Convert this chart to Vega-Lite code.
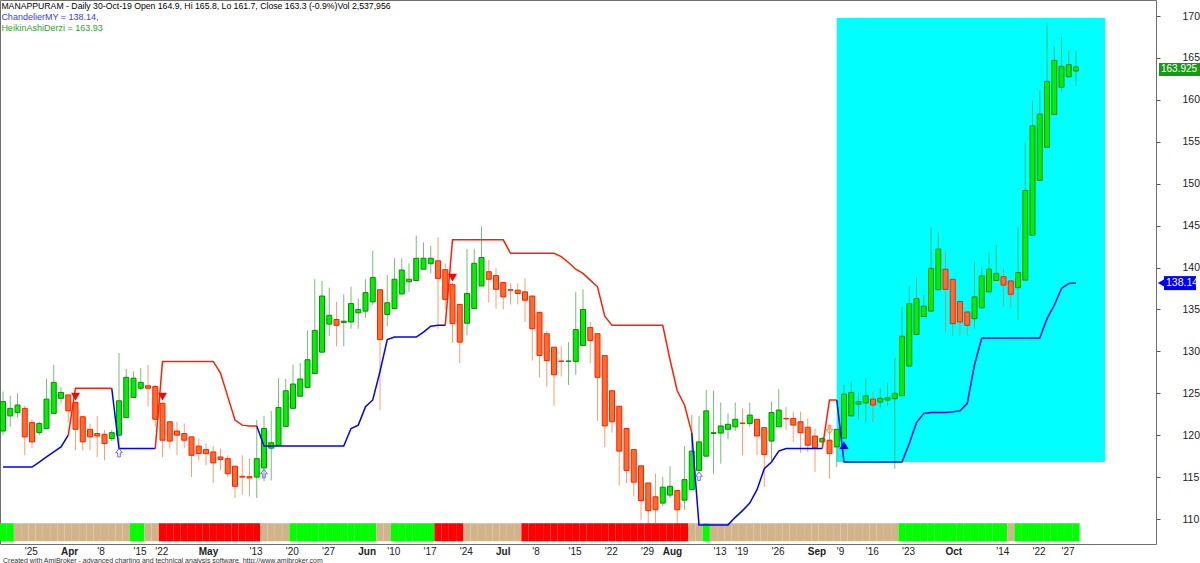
{
"$schema": "https://vega.github.io/schema/vega-lite/v6.json",
"width": 1156, "height": 544,
"autosize": {"type": "none"},
"padding": {"left": 0, "top": 0, "right": 44, "bottom": 19},
"background": "#ffffff",
"config": {"view": {"stroke": "#707070", "strokeWidth": 1}, "font": "Liberation Sans"},
"title": {"text": "Created with AmiBroker - advanced charting and technical analysis software. http://www.amibroker.com", "orient": "bottom", "anchor": "start", "frame": "group", "fontSize": 7, "fontWeight": "normal", "color": "#333333", "offset": 1, "dx": 3},
"datasets": {
"ohlc": [
{"d":"2019-03-19","o":120.5,"h":125.2,"l":120.0,"c":124.0,"r":"G","ls":116.2},
{"d":"2019-03-20","o":122.3,"h":124.7,"l":121.0,"c":123.2,"r":"G","ls":116.2},
{"d":"2019-03-22","o":122.7,"h":125.0,"l":122.1,"c":123.6,"r":"T","ls":116.2},
{"d":"2019-03-25","o":123.2,"h":123.5,"l":117.6,"c":119.8,"r":"T","ls":116.2},
{"d":"2019-03-26","o":121.5,"h":121.9,"l":118.5,"c":119.2,"r":"T","ls":116.2},
{"d":"2019-03-27","o":120.3,"h":121.6,"l":120.0,"c":121.4,"r":"T","ls":116.8},
{"d":"2019-03-28","o":120.8,"h":126.7,"l":120.8,"c":124.3,"r":"T","ls":117.4},
{"d":"2019-03-29","o":122.6,"h":128.4,"l":122.6,"c":126.3,"r":"T","ls":118.0},
{"d":"2019-04-01","o":124.4,"h":125.7,"l":123.8,"c":125.1,"r":"T","ls":118.6},
{"d":"2019-04-02","o":124.8,"h":124.8,"l":121.5,"c":122.9,"r":"T","ls":120.0,"ss":120.0},
{"d":"2019-04-03","o":123.9,"h":123.9,"l":118.2,"c":120.7,"r":"T","ss":125.6},
{"d":"2019-04-04","o":122.2,"h":122.2,"l":118.2,"c":119.2,"r":"T","ss":125.6},
{"d":"2019-04-05","o":120.7,"h":121.4,"l":118.2,"c":119.8,"r":"T","ss":125.6},
{"d":"2019-04-08","o":120.2,"h":122.3,"l":117.4,"c":119.9,"r":"T","ss":125.6},
{"d":"2019-04-09","o":120.1,"h":120.6,"l":117.0,"c":119.0,"r":"T","ss":125.6},
{"d":"2019-04-10","o":119.6,"h":120.6,"l":119.3,"c":120.3,"r":"T","ss":125.6,"ls":125.6},
{"d":"2019-04-11","o":120.0,"h":129.8,"l":118.6,"c":124.1,"r":"T","ls":118.4},
{"d":"2019-04-12","o":122.1,"h":127.9,"l":122.1,"c":126.9,"r":"T","ls":118.4},
{"d":"2019-04-15","o":124.5,"h":127.6,"l":124.4,"c":126.8,"r":"G","ls":118.4},
{"d":"2019-04-16","o":125.6,"h":128.0,"l":125.4,"c":126.3,"r":"G","ls":118.4},
{"d":"2019-04-18","o":125.9,"h":128.4,"l":123.4,"c":125.6,"r":"T","ls":118.4},
{"d":"2019-04-22","o":125.8,"h":126.0,"l":121.0,"c":121.9,"r":"T","ls":118.4,"ss":118.4},
{"d":"2019-04-23","o":123.8,"h":124.0,"l":117.4,"c":119.4,"r":"R","ss":128.8},
{"d":"2019-04-24","o":121.6,"h":121.6,"l":118.4,"c":119.3,"r":"R","ss":128.8},
{"d":"2019-04-25","o":120.5,"h":121.6,"l":117.6,"c":120.0,"r":"R","ss":128.8},
{"d":"2019-04-26","o":120.2,"h":121.4,"l":118.5,"c":119.4,"r":"R","ss":128.8},
{"d":"2019-04-30","o":119.8,"h":119.8,"l":115.0,"c":117.6,"r":"R","ss":128.8},
{"d":"2019-05-02","o":118.7,"h":119.6,"l":117.0,"c":117.8,"r":"R","ss":128.8},
{"d":"2019-05-03","o":118.3,"h":119.0,"l":116.4,"c":117.8,"r":"R","ss":128.8},
{"d":"2019-05-06","o":118.0,"h":118.7,"l":114.3,"c":116.7,"r":"R","ss":128.8},
{"d":"2019-05-07","o":117.4,"h":118.4,"l":115.8,"c":117.1,"r":"R","ss":127.4},
{"d":"2019-05-08","o":117.2,"h":117.6,"l":115.0,"c":115.4,"r":"R","ss":124.6},
{"d":"2019-05-09","o":116.3,"h":116.3,"l":112.5,"c":113.9,"r":"R","ss":121.8},
{"d":"2019-05-10","o":115.1,"h":117.6,"l":112.9,"c":115.0,"r":"R","ss":121.2},
{"d":"2019-05-13","o":115.05,"h":117.2,"l":112.7,"c":114.9,"r":"R","ss":121.1},
{"d":"2019-05-14","o":115.0,"h":121.8,"l":112.5,"c":117.2,"r":"R","ss":121.1,"ls":121.1},
{"d":"2019-05-15","o":116.1,"h":122.3,"l":114.5,"c":120.8,"r":"T","ls":118.7},
{"d":"2019-05-16","o":118.45,"h":122.9,"l":114.6,"c":119.1,"r":"T","ls":118.7},
{"d":"2019-05-17","o":118.8,"h":126.8,"l":118.7,"c":123.3,"r":"T","ls":118.7},
{"d":"2019-05-20","o":121.05,"h":126.7,"l":121.0,"c":125.3,"r":"T","ls":118.7},
{"d":"2019-05-21","o":123.2,"h":128.4,"l":123.2,"c":126.1,"r":"G","ls":118.7},
{"d":"2019-05-22","o":124.65,"h":128.6,"l":124.6,"c":126.7,"r":"G","ls":118.7},
{"d":"2019-05-23","o":125.7,"h":132.5,"l":125.7,"c":129.0,"r":"G","ls":118.7},
{"d":"2019-05-24","o":127.35,"h":138.6,"l":127.3,"c":132.5,"r":"G","ls":118.7},
{"d":"2019-05-27","o":129.9,"h":138.4,"l":129.9,"c":136.6,"r":"G","ls":118.7},
{"d":"2019-05-28","o":133.25,"h":137.6,"l":131.8,"c":134.3,"r":"G","ls":118.7},
{"d":"2019-05-29","o":133.8,"h":135.9,"l":130.6,"c":133.1,"r":"G","ls":118.7},
{"d":"2019-05-30","o":133.45,"h":136.8,"l":130.6,"c":133.6,"r":"G","ls":118.7},
{"d":"2019-05-31","o":133.5,"h":137.7,"l":132.7,"c":135.7,"r":"G","ls":120.8},
{"d":"2019-06-03","o":134.6,"h":136.3,"l":132.7,"c":135.0,"r":"G","ls":121.2},
{"d":"2019-06-04","o":134.8,"h":138.6,"l":134.0,"c":137.0,"r":"G","ls":123.4},
{"d":"2019-06-06","o":135.9,"h":142.0,"l":135.5,"c":138.8,"r":"G","ls":124.2},
{"d":"2019-06-07","o":137.35,"h":137.35,"l":123.0,"c":131.4,"r":"T","ls":127.6},
{"d":"2019-06-10","o":134.4,"h":139.1,"l":133.0,"c":135.8,"r":"T","ls":131.4},
{"d":"2019-06-11","o":135.1,"h":141.1,"l":135.1,"c":138.6,"r":"G","ls":131.7},
{"d":"2019-06-12","o":136.85,"h":141.1,"l":136.8,"c":139.7,"r":"G","ls":131.7},
{"d":"2019-06-13","o":138.3,"h":140.5,"l":137.1,"c":138.6,"r":"G","ls":131.7},
{"d":"2019-06-14","o":138.45,"h":143.8,"l":138.4,"c":141.1,"r":"G","ls":131.7},
{"d":"2019-06-17","o":139.8,"h":143.0,"l":139.8,"c":141.1,"r":"G","ls":132.3},
{"d":"2019-06-18","o":140.45,"h":142.6,"l":139.3,"c":141.1,"r":"G","ls":133.0},
{"d":"2019-06-19","o":140.8,"h":143.6,"l":132.7,"c":138.7,"r":"R","ls":133.1},
{"d":"2019-06-20","o":139.75,"h":140.5,"l":135.0,"c":136.2,"r":"R","ls":133.1,"ss":133.1},
{"d":"2019-06-21","o":137.95,"h":138.2,"l":131.0,"c":133.3,"r":"R","ss":143.3},
{"d":"2019-06-24","o":135.6,"h":135.6,"l":128.6,"c":131.1,"r":"R","ss":143.3},
{"d":"2019-06-25","o":133.35,"h":142.2,"l":131.9,"c":136.9,"r":"T","ss":143.3},
{"d":"2019-06-26","o":135.1,"h":142.2,"l":135.1,"c":140.5,"r":"T","ss":143.3},
{"d":"2019-06-27","o":137.8,"h":144.9,"l":137.8,"c":141.2,"r":"T","ss":143.3},
{"d":"2019-06-28","o":139.5,"h":140.9,"l":135.8,"c":138.6,"r":"T","ss":143.3},
{"d":"2019-07-01","o":139.05,"h":139.9,"l":135.1,"c":137.4,"r":"T","ss":143.3},
{"d":"2019-07-02","o":138.2,"h":138.3,"l":135.0,"c":136.5,"r":"T","ss":143.3},
{"d":"2019-07-03","o":137.35,"h":138.1,"l":135.6,"c":137.3,"r":"T","ss":141.7},
{"d":"2019-07-04","o":137.3,"h":138.1,"l":135.6,"c":136.9,"r":"T","ss":141.7},
{"d":"2019-07-05","o":137.1,"h":138.7,"l":133.5,"c":136.1,"r":"R","ss":141.7},
{"d":"2019-07-08","o":136.6,"h":136.6,"l":128.9,"c":132.7,"r":"R","ss":141.7},
{"d":"2019-07-09","o":134.65,"h":134.65,"l":126.9,"c":129.5,"r":"R","ss":141.7},
{"d":"2019-07-10","o":132.1,"h":132.4,"l":125.8,"c":128.9,"r":"R","ss":141.7},
{"d":"2019-07-11","o":130.5,"h":130.5,"l":123.5,"c":127.2,"r":"R","ss":141.7},
{"d":"2019-07-12","o":128.85,"h":130.6,"l":127.0,"c":128.8,"r":"R","ss":141.3},
{"d":"2019-07-15","o":128.8,"h":131.1,"l":126.0,"c":128.85,"r":"R","ss":140.6},
{"d":"2019-07-16","o":128.8,"h":137.1,"l":127.2,"c":132.6,"r":"R","ss":139.8},
{"d":"2019-07-17","o":130.7,"h":137.4,"l":130.7,"c":135.0,"r":"R","ss":139.3},
{"d":"2019-07-18","o":132.85,"h":133.5,"l":128.6,"c":131.3,"r":"R","ss":138.5},
{"d":"2019-07-19","o":132.1,"h":132.1,"l":121.7,"c":126.9,"r":"R","ss":137.7},
{"d":"2019-07-22","o":129.5,"h":129.5,"l":118.6,"c":121.1,"r":"R","ss":134.2},
{"d":"2019-07-23","o":125.3,"h":125.3,"l":120.3,"c":121.6,"r":"R","ss":133.1},
{"d":"2019-07-24","o":123.45,"h":123.45,"l":114.0,"c":118.1,"r":"R","ss":133.1},
{"d":"2019-07-25","o":120.8,"h":120.8,"l":114.3,"c":115.8,"r":"R","ss":133.1},
{"d":"2019-07-26","o":118.3,"h":118.3,"l":112.7,"c":114.4,"r":"R","ss":133.1},
{"d":"2019-07-29","o":116.35,"h":116.35,"l":109.9,"c":112.2,"r":"R","ss":133.1},
{"d":"2019-07-30","o":114.3,"h":114.3,"l":109.5,"c":111.0,"r":"R","ss":133.1},
{"d":"2019-07-31","o":112.65,"h":115.4,"l":109.5,"c":111.1,"r":"R","ss":133.1},
{"d":"2019-08-01","o":111.9,"h":115.0,"l":111.5,"c":113.8,"r":"R","ss":133.1},
{"d":"2019-08-02","o":112.85,"h":116.3,"l":112.5,"c":113.9,"r":"R","ss":129.0},
{"d":"2019-08-05","o":113.4,"h":113.4,"l":109.5,"c":111.1,"r":"R","ss":125.3},
{"d":"2019-08-06","o":112.25,"h":118.7,"l":111.1,"c":114.7,"r":"R","ss":123.6},
{"d":"2019-08-07","o":113.5,"h":122.4,"l":113.5,"c":118.1,"r":"T","ss":120.3,"ls":120.3},
{"d":"2019-08-08","o":115.8,"h":122.3,"l":115.8,"c":119.2,"r":"T","ls":109.3},
{"d":"2019-08-09","o":117.5,"h":125.4,"l":117.4,"c":122.9,"r":"G","ls":109.3},
{"d":"2019-08-13","o":120.2,"h":125.3,"l":115.4,"c":120.3,"r":"T","ls":109.3},
{"d":"2019-08-14","o":120.25,"h":123.9,"l":116.6,"c":121.1,"r":"T","ls":109.3},
{"d":"2019-08-16","o":120.7,"h":122.6,"l":119.5,"c":121.3,"r":"T","ls":109.3},
{"d":"2019-08-19","o":121.0,"h":123.9,"l":120.5,"c":121.9,"r":"T","ls":110.2},
{"d":"2019-08-20","o":121.45,"h":123.2,"l":117.6,"c":121.4,"r":"T","ls":111.0},
{"d":"2019-08-21","o":121.4,"h":123.9,"l":121.0,"c":122.4,"r":"T","ls":111.9},
{"d":"2019-08-22","o":121.9,"h":121.9,"l":117.6,"c":119.9,"r":"T","ls":113.5},
{"d":"2019-08-23","o":120.9,"h":120.9,"l":113.8,"c":117.7,"r":"T","ls":116.0},
{"d":"2019-08-26","o":119.3,"h":124.0,"l":117.0,"c":122.7,"r":"T","ls":116.8},
{"d":"2019-08-27","o":121.0,"h":125.5,"l":121.0,"c":123.0,"r":"T","ls":118.1},
{"d":"2019-08-28","o":122.0,"h":123.4,"l":120.6,"c":121.95,"r":"T","ls":118.4},
{"d":"2019-08-29","o":122.0,"h":122.8,"l":119.2,"c":121.2,"r":"T","ls":118.4},
{"d":"2019-08-30","o":121.6,"h":122.8,"l":117.9,"c":120.3,"r":"T","ls":118.4},
{"d":"2019-09-03","o":120.95,"h":122.0,"l":118.0,"c":118.8,"r":"T","ls":118.4},
{"d":"2019-09-04","o":119.9,"h":120.8,"l":115.6,"c":118.5,"r":"T","ls":118.4},
{"d":"2019-09-05","o":119.2,"h":119.8,"l":118.5,"c":119.6,"r":"T","ls":118.4,"ss":118.4},
{"d":"2019-09-06","o":119.4,"h":121.2,"l":114.8,"c":117.8,"r":"T","ss":124.2},
{"d":"2019-09-09","o":118.6,"h":120.7,"l":116.2,"c":120.7,"r":"T","ss":124.2,"ls":124.2},
{"d":"2019-09-11","o":119.65,"h":126.0,"l":119.6,"c":124.9,"r":"T","ls":116.8},
{"d":"2019-09-12","o":122.3,"h":126.4,"l":122.3,"c":125.1,"r":"T","ls":116.8},
{"d":"2019-09-13","o":123.7,"h":125.1,"l":121.8,"c":124.0,"r":"T","ls":116.8},
{"d":"2019-09-16","o":123.85,"h":126.8,"l":121.6,"c":124.7,"r":"T","ls":116.8},
{"d":"2019-09-17","o":124.3,"h":125.2,"l":121.5,"c":123.6,"r":"T","ls":116.8},
{"d":"2019-09-18","o":123.95,"h":125.6,"l":123.2,"c":124.4,"r":"T","ls":116.8},
{"d":"2019-09-19","o":124.2,"h":126.3,"l":123.5,"c":124.5,"r":"T","ls":116.8},
{"d":"2019-09-20","o":124.35,"h":129.2,"l":116.0,"c":125.0,"r":"T","ls":116.8},
{"d":"2019-09-23","o":124.7,"h":135.3,"l":124.7,"c":131.8,"r":"G","ls":116.8},
{"d":"2019-09-24","o":128.25,"h":137.8,"l":128.2,"c":135.7,"r":"G","ls":119.0},
{"d":"2019-09-25","o":132.0,"h":138.8,"l":132.0,"c":136.3,"r":"G","ls":121.5},
{"d":"2019-09-26","o":134.15,"h":136.7,"l":134.1,"c":135.4,"r":"G","ls":122.6},
{"d":"2019-09-27","o":134.8,"h":144.8,"l":134.8,"c":139.9,"r":"G","ls":122.7},
{"d":"2019-09-30","o":137.35,"h":144.2,"l":137.3,"c":142.2,"r":"G","ls":122.7},
{"d":"2019-10-01","o":139.8,"h":141.9,"l":132.3,"c":137.4,"r":"G","ls":122.7},
{"d":"2019-10-03","o":138.6,"h":138.6,"l":131.8,"c":133.3,"r":"G","ls":122.8},
{"d":"2019-10-04","o":135.95,"h":135.95,"l":131.9,"c":133.5,"r":"G","ls":122.9},
{"d":"2019-10-07","o":134.7,"h":134.7,"l":131.9,"c":133.1,"r":"G","ls":123.8},
{"d":"2019-10-09","o":133.9,"h":140.7,"l":132.7,"c":136.5,"r":"G","ls":128.4},
{"d":"2019-10-10","o":135.2,"h":140.0,"l":135.1,"c":139.0,"r":"G","ls":131.6},
{"d":"2019-10-11","o":137.1,"h":141.8,"l":137.1,"c":139.8,"r":"G","ls":131.6},
{"d":"2019-10-14","o":138.45,"h":142.7,"l":138.4,"c":139.3,"r":"G","ls":131.6},
{"d":"2019-10-15","o":138.9,"h":139.9,"l":135.4,"c":137.9,"r":"G","ls":131.6},
{"d":"2019-10-16","o":138.4,"h":138.4,"l":135.2,"c":136.8,"r":"T","ls":131.6},
{"d":"2019-10-17","o":137.6,"h":144.8,"l":133.7,"c":139.4,"r":"G","ls":131.6},
{"d":"2019-10-18","o":138.5,"h":155.0,"l":138.5,"c":149.2,"r":"G","ls":131.6},
{"d":"2019-10-22","o":143.85,"h":159.9,"l":143.8,"c":156.9,"r":"G","ls":131.6},
{"d":"2019-10-23","o":150.4,"h":161.2,"l":150.3,"c":158.3,"r":"G","ls":131.6},
{"d":"2019-10-24","o":154.35,"h":169.2,"l":154.3,"c":162.2,"r":"G","ls":133.9},
{"d":"2019-10-25","o":158.25,"h":166.4,"l":158.2,"c":164.7,"r":"G","ls":135.5},
{"d":"2019-10-27","o":161.5,"h":167.5,"l":160.9,"c":164.0,"r":"G","ls":137.5},
{"d":"2019-10-29","o":162.75,"h":165.9,"l":162.7,"c":164.2,"r":"G","ls":138.1},
{"d":"2019-10-30","o":163.45,"h":165.8,"l":161.7,"c":163.925,"r":"G","ls":138.14}
],
"sig": [
{"d":"2019-04-03","p":124.6,"t":"sellT"},
{"d":"2019-04-23","p":124.6,"t":"sellT"},
{"d":"2019-06-21","p":138.8,"t":"sellT"},
{"d":"2019-09-11","p":118.8,"t":"buyT"},
{"d":"2019-04-11","p":117.9,"t":"buyA"},
{"d":"2019-05-15","p":115.4,"t":"buyA"},
{"d":"2019-08-08","p":115.1,"t":"buyA"},
{"d":"2019-09-06","p":120.7,"t":"sellA"}
]
},
"data": {"name": "ohlc"},
"encoding": {
"x": {"field": "d", "type": "ordinal",
 "scale": {"type": "band", "paddingInner": 0, "paddingOuter": 0, "range": [-0.625, 1152.125],
  "domain": ["2019-03-19","2019-03-20","2019-03-22","2019-03-25","2019-03-26","2019-03-27","2019-03-28","2019-03-29","2019-04-01","2019-04-02","2019-04-03","2019-04-04","2019-04-05","2019-04-08","2019-04-09","2019-04-10","2019-04-11","2019-04-12","2019-04-15","2019-04-16","2019-04-18","2019-04-22","2019-04-23","2019-04-24","2019-04-25","2019-04-26","2019-04-30","2019-05-02","2019-05-03","2019-05-06","2019-05-07","2019-05-08","2019-05-09","2019-05-10","2019-05-13","2019-05-14","2019-05-15","2019-05-16","2019-05-17","2019-05-20","2019-05-21","2019-05-22","2019-05-23","2019-05-24","2019-05-27","2019-05-28","2019-05-29","2019-05-30","2019-05-31","2019-06-03","2019-06-04","2019-06-06","2019-06-07","2019-06-10","2019-06-11","2019-06-12","2019-06-13","2019-06-14","2019-06-17","2019-06-18","2019-06-19","2019-06-20","2019-06-21","2019-06-24","2019-06-25","2019-06-26","2019-06-27","2019-06-28","2019-07-01","2019-07-02","2019-07-03","2019-07-04","2019-07-05","2019-07-08","2019-07-09","2019-07-10","2019-07-11","2019-07-12","2019-07-15","2019-07-16","2019-07-17","2019-07-18","2019-07-19","2019-07-22","2019-07-23","2019-07-24","2019-07-25","2019-07-26","2019-07-29","2019-07-30","2019-07-31","2019-08-01","2019-08-02","2019-08-05","2019-08-06","2019-08-07","2019-08-08","2019-08-09","2019-08-13","2019-08-14","2019-08-16","2019-08-19","2019-08-20","2019-08-21","2019-08-22","2019-08-23","2019-08-26","2019-08-27","2019-08-28","2019-08-29","2019-08-30","2019-09-03","2019-09-04","2019-09-05","2019-09-06","2019-09-09","2019-09-11","2019-09-12","2019-09-13","2019-09-16","2019-09-17","2019-09-18","2019-09-19","2019-09-20","2019-09-23","2019-09-24","2019-09-25","2019-09-26","2019-09-27","2019-09-30","2019-10-01","2019-10-03","2019-10-04","2019-10-07","2019-10-09","2019-10-10","2019-10-11","2019-10-14","2019-10-15","2019-10-16","2019-10-17","2019-10-18","2019-10-22","2019-10-23","2019-10-24","2019-10-25","2019-10-27","2019-10-29","2019-10-30","2019-10-31","2019-11-01","2019-11-04","2019-11-05","2019-11-06","2019-11-07","2019-11-08","2019-11-11","2019-11-13","2019-11-14"]},
 "axis": {"title": null, "grid": false, "domain": false, "ticks": false, "labelAngle": 0, "labelAlign": "left", "labelPadding": 2, "labelOverlap": false, "labelBound": false, "labelFlush": false, "labelFont": "Liberation Sans", "labelFontSize": 10, "labelColor": "#222222",
  "values": ["2019-03-25","2019-04-01","2019-04-08","2019-04-15","2019-04-22","2019-05-02","2019-05-13","2019-05-20","2019-05-27","2019-06-03","2019-06-10","2019-06-17","2019-06-24","2019-07-01","2019-07-08","2019-07-15","2019-07-22","2019-07-29","2019-08-01","2019-08-13","2019-08-19","2019-08-26","2019-09-03","2019-09-09","2019-09-16","2019-09-23","2019-10-01","2019-10-14","2019-10-22","2019-10-27"],
  "labelExpr": "indexof(['2019-04-01','2019-05-02','2019-06-03','2019-07-01','2019-08-01','2019-09-03','2019-10-01'], datum.value) >= 0 ? ['Jan','Feb','Mar','Apr','May','Jun','Jul','Aug','Sep','Oct','Nov','Dec'][toNumber(substring(datum.value,5,7))-1] : \"'\" + toNumber(substring(datum.value,8,10))",
  "labelFontWeight": {"condition": {"test": "indexof(['2019-04-01','2019-05-02','2019-06-03','2019-07-01','2019-08-01','2019-09-03','2019-10-01'], datum.value) >= 0", "value": "bold"}, "value": "normal"}}
}
},
"layer": [
{"data": {"values": [{}]},
 "mark": {"type": "rect", "color": "#00ffff"},
 "encoding": {
  "x": {"datum": "2019-09-09", "type": "ordinal", "bandPosition": 0.5},
  "x2": {"datum": "2019-11-05"},
  "y": {"datum": 169.76, "type": "quantitative"},
  "y2": {"datum": 116.8}}},
{"mark": {"type": "bar", "width": {"band": 1}},
 "encoding": {
  "y": {"datum": 107.35, "type": "quantitative"},
  "y2": {"datum": 109.5},
  "color": {"field": "r", "type": "nominal", "scale": {"domain": ["G","T","R"], "range": ["#00ff00","#d2b48c","#ff0000"]}, "legend": null}}},
{"mark": {"type": "rule", "opacity": 0.65, "strokeWidth": 1},
 "encoding": {
  "y": {"field": "l", "type": "quantitative",
   "scale": {"domain": [107.02, 171.91], "nice": false, "zero": false},
   "axis": {"orient": "right", "title": null, "grid": false, "domain": false, "ticks": true, "tickSize": 4, "tickColor": "#555555", "labelPadding": 22, "labelFont": "Liberation Sans", "labelFontSize": 10.5, "labelColor": "#222222", "format": "d", "values": [110,115,120,125,130,135,140,145,150,155,160,165,170]}},
  "y2": {"field": "h"},
  "stroke": {"condition": {"test": "datum.c >= datum.o", "value": "#2e9e2e"}, "value": "#ff6a20"}}},
{"mark": {"type": "bar", "width": 5, "strokeWidth": 1},
 "encoding": {
  "y": {"field": "o", "type": "quantitative"},
  "y2": {"field": "c"},
  "fill": {"condition": {"test": "datum.c >= datum.o", "value": "#00f000"}, "value": "#ff6c2c"},
  "stroke": {"condition": {"test": "datum.c >= datum.o", "value": "#0a8a0a"}, "value": "#ff2000"}}},
{"mark": {"type": "line", "color": "#0000ff", "strokeWidth": 1.5},
 "encoding": {"y": {"field": "ls", "type": "quantitative"}}},
{"mark": {"type": "line", "color": "#ff2000", "strokeWidth": 1.5},
 "encoding": {"y": {"field": "ss", "type": "quantitative"}}},
{"data": {"name": "sig"}, "transform": [{"filter": "datum.t == 'sellT'"}],
 "mark": {"type": "point", "shape": "triangle-down", "filled": true, "color": "#ff0000", "size": 80, "opacity": 1},
 "encoding": {"y": {"field": "p", "type": "quantitative"}}},
{"data": {"name": "sig"}, "transform": [{"filter": "datum.t == 'buyT'"}],
 "mark": {"type": "point", "shape": "triangle-up", "filled": true, "color": "#0000ff", "size": 80, "opacity": 1},
 "encoding": {"y": {"field": "p", "type": "quantitative"}}},
{"data": {"name": "sig"}, "transform": [{"filter": "datum.t == 'buyA'"}],
 "mark": {"type": "point", "shape": "M0,-1L0.8,0L0.3,0L0.3,1L-0.3,1L-0.3,0L-0.8,0Z", "filled": false, "stroke": "#6a6aff", "strokeWidth": 1, "size": 70, "opacity": 1},
 "encoding": {"y": {"field": "p", "type": "quantitative"}}},
{"data": {"name": "sig"}, "transform": [{"filter": "datum.t == 'sellA'"}],
 "mark": {"type": "point", "shape": "M0,1L0.8,0L0.3,0L0.3,-1L-0.3,-1L-0.3,0L-0.8,0Z", "filled": false, "stroke": "#ff8040", "strokeWidth": 1, "size": 70, "opacity": 1},
 "encoding": {"y": {"field": "p", "type": "quantitative"}}},
{"data": {"values": [{}]},
 "mark": {"type": "rect", "color": "#169a16", "xOffset": 3, "x2Offset": 44, "yOffset": -4, "y2Offset": 9},
 "encoding": {"x": {"value": "width"}, "x2": {"value": "width"}, "y": {"datum": 163.925, "type": "quantitative"}, "y2": {"datum": 163.925}}},
{"data": {"values": [{}]},
 "mark": {"type": "text", "text": "163.925", "color": "#ffffff", "fontSize": 10, "align": "left", "baseline": "middle", "dx": 5, "dy": 2.5},
 "encoding": {"x": {"value": "width"}, "y": {"datum": 163.925, "type": "quantitative"}}},
{"data": {"values": [{}]},
 "mark": {"type": "rect", "color": "#0000ff", "xOffset": 8, "x2Offset": 40, "yOffset": -7, "y2Offset": 7},
 "encoding": {"x": {"value": "width"}, "x2": {"value": "width"}, "y": {"datum": 138.14, "type": "quantitative"}, "y2": {"datum": 138.14}}},
{"data": {"values": [{}]},
 "mark": {"type": "point", "shape": "triangle-left", "filled": true, "color": "#0000ff", "size": 90, "opacity": 1, "xOffset": 6},
 "encoding": {"x": {"value": "width"}, "y": {"datum": 138.14, "type": "quantitative"}}},
{"data": {"values": [{}]},
 "mark": {"type": "text", "text": "138.14", "color": "#ffffff", "fontSize": 10.5, "align": "left", "baseline": "middle", "dx": 10},
 "encoding": {"x": {"value": "width"}, "y": {"datum": 138.14, "type": "quantitative"}}},
{"data": {"values": [{}]},
 "mark": {"type": "text", "text": "MANAPPURAM - Daily 30-Oct-19 Open 164.9, Hi 165.8, Lo 161.7, Close 163.3 (-0.9%)Vol 2,537,956", "color": "#000000", "fontSize": 8.7, "align": "left", "baseline": "middle", "dx": 2},
 "encoding": {"x": {"datum": "2019-03-19", "type": "ordinal", "bandPosition": 0}, "y": {"datum": 171.23, "type": "quantitative"}}},
{"data": {"values": [{}]},
 "mark": {"type": "text", "text": "ChandelierMY = 138.14,", "color": "#3a3aff", "fontSize": 9, "align": "left", "baseline": "middle", "dx": 2},
 "encoding": {"x": {"datum": "2019-03-19", "type": "ordinal", "bandPosition": 0}, "y": {"datum": 169.84, "type": "quantitative"}}},
{"data": {"values": [{}]},
 "mark": {"type": "text", "text": "HeikinAshiDerzi = 163.93", "color": "#2f9f2f", "fontSize": 9, "align": "left", "baseline": "middle", "dx": 2},
 "encoding": {"x": {"datum": "2019-03-19", "type": "ordinal", "bandPosition": 0}, "y": {"datum": 168.53, "type": "quantitative"}}}
]
}
